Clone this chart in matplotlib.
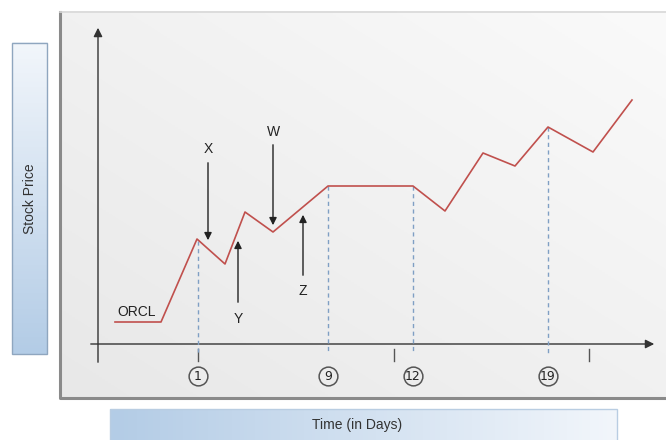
import numpy as np
from matplotlib import pyplot as plt
from matplotlib.patches import Rectangle

# schematic time positions and price levels of the ORCL line
time_pos = [1.7, 6.3, 9.9, 12.7, 14.7, 17.5, 23.0, 31.5, 34.7, 38.5, 41.7, 45.0, 49.5, 53.4]
price = [2.2, 2.2, 10.5, 8.0, 13.2, 11.2, 15.8, 15.8, 13.3, 19.1, 17.8, 21.7, 19.2, 24.4]

# marked days: position on the time axis and price where the guide starts
day_labels = ['1', '9', '12', '19']
day_pos = [10.0, 23.0, 31.5, 45.0]
day_price = [10.3, 15.8, 15.8, 21.7]

# unlabelled tick marks below the axis
tick_pos = [10.0, 29.6, 49.1]

# annotation letters: (label, x, text y, arrow start y, arrow tip y)
notes = [('X', 11.0, 19.5, 18.4, 10.1),
         ('Y', 14.0, 2.5, 3.9, 10.6),
         ('W', 17.5, 21.2, 20.2, 11.6),
         ('Z', 20.5, 5.3, 6.6, 13.2)]

fig = plt.figure(figsize=(6.66, 4.40), dpi=100)
W, H = 666.0, 440.0


def fbox(x0, y0, x1, y1):
    # pixel box -> figure fraction extent
    return [x0 / W, x1 / W, 1 - y1 / H, 1 - y0 / H]


bg = fig.add_axes([0, 0, 1, 1])
bg.set_xlim(0, 1)
bg.set_ylim(0, 1)
bg.axis('off')

# gray panel with soft gradient
gx, gy = np.meshgrid(np.linspace(0, 1, 200), np.linspace(0, 1, 200))
grad = 0.5 * gx + 0.5 * gy
e = fbox(60, 12, 668, 398)
bg.imshow(grad, extent=e, origin='lower', cmap=plt.matplotlib.colors.LinearSegmentedColormap.from_list(
    'g', ['#e8e8e8', '#fafafa']), aspect='auto', zorder=1)
bg.plot([e[0], e[0], e[1]], [e[3], e[2], e[2]], color='#8a8a8a', lw=2.2, zorder=2)
bg.plot([e[0], e[1]], [e[3], e[3]], color='#d8d8d8', lw=1.2, zorder=2)

# Stock Price label box, vertical gradient
blue = plt.matplotlib.colors.LinearSegmentedColormap.from_list('b', ['#b3cce6', '#f2f6fb'])
e = fbox(12, 43, 47, 354)
bg.imshow(np.linspace(0, 1, 200)[:, None], extent=e, origin='lower', cmap=blue, aspect='auto', zorder=1)
bg.add_patch(Rectangle((e[0], e[2]), e[1] - e[0], e[3] - e[2], fill=False, ec='#8fa6bf', lw=1.0, zorder=2))
bg.text((e[0] + e[1]) / 2, (e[2] + e[3]) / 2, 'Stock Price', rotation=90, ha='center', va='center',
        fontsize=10, color='#333333', family='Liberation Sans', zorder=3)

# Time label box, horizontal gradient
e = fbox(110, 409, 617, 442)
bg.imshow(np.linspace(0, 1, 200)[None, :], extent=e, origin='lower', cmap=blue, aspect='auto', zorder=1)
bg.add_patch(Rectangle((e[0], e[2]), e[1] - e[0], e[3] - e[2], fill=False, ec='#b9cde2', lw=1.0, zorder=2))
bg.text(312 / W, 1 - 425 / H, 'Time (in Days)', ha='left', va='center',
        fontsize=10, color='#333333', family='Liberation Sans', zorder=3)

# chart in schematic units
ax = fig.add_axes([0, 0, 1, 1])
ax.patch.set_alpha(0)
ax.set_xlim(-9.8, 56.8)
ax.set_ylim(-9.6, 34.4)
ax.axis('off')

ax.annotate('', xy=(0, 31.9), xytext=(0, -2.1),
            arrowprops=dict(arrowstyle='-|>', color='#333333', lw=1.0, mutation_scale=13))
ax.annotate('', xy=(55.9, 0), xytext=(-1.0, 0),
            arrowprops=dict(arrowstyle='-|>', color='#333333', lw=1.0, mutation_scale=13))

ax.plot(time_pos, price, color='#c0504d', lw=1.2, zorder=4)
ax.text(3.9, 3.2, 'ORCL', ha='center', va='center', fontsize=10, color='#222222',
        family='Liberation Sans')

for t, p in zip(day_pos, day_price):
    ax.plot([t, t], [p, -1.0], color='#7f9fc4', lw=1.0, ls=(0, (3, 2.5)), zorder=3)

# circled day numbers, same size for every label
ax.plot(day_pos, [-3.2] * len(day_pos), ls='none', marker='o', ms=13.5,
        mfc='#ececec', mec='#555555', mew=1.1, zorder=5)
for t, lab in zip(day_pos, day_labels):
    ax.text(t, -3.2, lab, ha='center', va='center', fontsize=9, color='#222222',
            family='Liberation Sans Narrow', zorder=6)

for t in tick_pos:
    ax.plot([t, t], [-0.5, -1.7], color='#555555', lw=1.0)

for lab, x, ty, y0, y1 in notes:
    ax.annotate('', xy=(x, y1), xytext=(x, y0),
                arrowprops=dict(arrowstyle='-|>', color='#222222', lw=1.0, mutation_scale=11))
    ax.text(x, ty, lab, ha='center', va='center', fontsize=10, color='#222222',
            family='Liberation Sans')

fig.savefig('out.png', dpi=100)
